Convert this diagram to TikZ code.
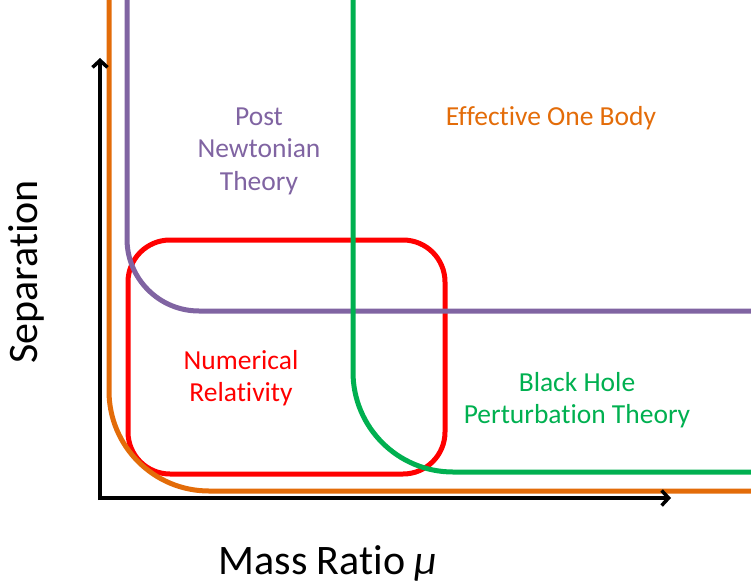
\documentclass[tikz,border=0pt]{standalone}
\usepackage{fontspec}
\setmainfont{Carlito}[Ligatures={NoCommon}]
\usetikzlibrary{arrows.meta}
\definecolor{cOrange}{HTML}{E36C09}
\definecolor{cPurple}{HTML}{8064A2}
\definecolor{cGreen}{HTML}{00B050}
\definecolor{cRed}{HTML}{FF0000}
\tikzset{
  curve/.style={line width=5pt},
  axis/.style={line width=4pt, -{Straight Barb[length=7pt,width=15pt,line width=3.5pt]}},
  lbl/.style={font=\fontsize{27.5}{32.5}\selectfont, align=center, inner sep=0pt},
  axlbl/.style={font=\fontsize{42}{48}\selectfont, inner sep=0pt}
}
\begin{document}
\begin{tikzpicture}[x=1pt,y=-1pt]
\useasboundingbox (0,0) rectangle (751,586);
% red box
\draw[curve, cRed, rounded corners=42pt] (128,240) rectangle (445,474);
% orange
\draw[curve, cOrange, rounded corners=100pt] (109,-5) -- (109,491) -- (760,491);
% purple
\draw[curve, cPurple, rounded corners=72pt] (127,-5) -- (127,311) -- (760,311);
% green
\draw[curve, cGreen, rounded corners=100pt] (353,-5) -- (353,472) -- (760,472);
% axes
\coordinate (ytip) at (100,58);
\coordinate (xtip) at (671,498);
\draw[axis] (100,500) -- (ytip);
\draw[axis] (98,498) -- (xtip);
% labels
\node[lbl, text=cPurple] (pn) at (259,151) {Post\\Newtonian\\Theory};
\node[lbl, text=cOrange] (eob) at (551,118) {Effective One Body};
\node[lbl, text=cRed] (nr) at (241,378) {Numerical\\Relativity};
\node[lbl, text=cGreen] (bh) at (577,400) {Black Hole\\Perturbation Theory};
\node[axlbl, rotate=90] (sep) at (26,272) {Separation};
\node[axlbl] (mr) at (328,563) {Mass Ratio \textit{μ}};
\end{tikzpicture}
\end{document}
